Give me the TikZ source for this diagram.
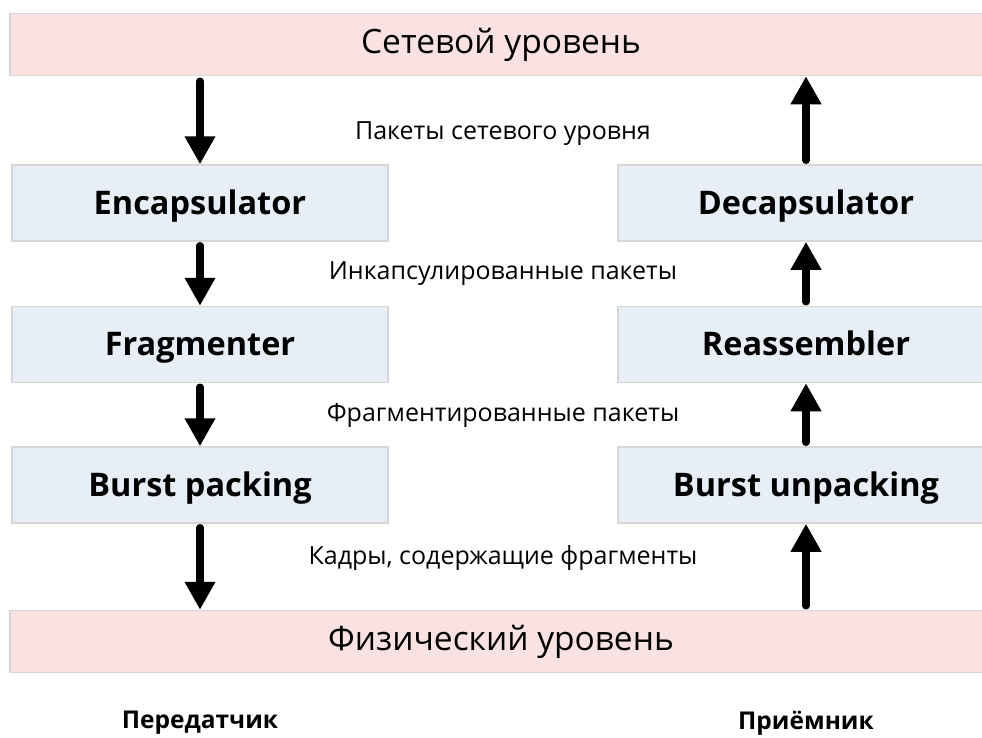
\documentclass[tikz,border=0pt]{standalone}
\usepackage{fontspec}
\setmainfont{Open Sans}
\usetikzlibrary{arrows.meta}
\definecolor{layerfill}{HTML}{FAE2E2}
\definecolor{stagefill}{HTML}{E8EEF6}
\definecolor{edgegray}{HTML}{D6D6D6}
\tikzset{
  layer/.style={draw=edgegray, line width=1.5pt, fill=layerfill, minimum width=982pt,
    minimum height=62pt, inner sep=0pt, font=\fontsize{33.5}{40}\selectfont},
  stage/.style={draw=edgegray, line width=1.5pt, fill=stagefill, minimum width=376pt,
    minimum height=76pt, inner sep=0pt, text height=27pt, text depth=5pt,
    font=\bfseries\fontsize{32.5}{38}\selectfont},
  flow/.style={line width=7.5pt, line cap=round, -{Triangle[length=28pt,width=29pt]}},
  caption/.style={font=\fontsize{25}{30}\selectfont, inner sep=0pt},
  side/.style={font=\bfseries\fontsize{24.5}{29}\selectfont, inner sep=0pt}
}
\begin{document}
\begin{tikzpicture}[x=1pt, y=-1pt]
\useasboundingbox (0,0) rectangle (982,737);
\clip (0,0) rectangle (982,737);
\fill[white] (0,0) rectangle (982,737);

% protocol layers
\node[layer] (net) at (501,44.5) {Сетевой уровень};
\node[layer] (phy) at (501,641.5) {Физический уровень};

% transmitter chain
\node[stage] (enc) at (200,203) {Encapsulator};
\node[stage] (frag) at (200,344.5) {Fragmenter};
\node[stage] (pack) at (200,485) {Burst packing};

% receiver chain
\node[stage] (dec) at (806,203) {Decapsulator};
\node[stage] (reas) at (806,344.5) {Reassembler};
\node[stage] (unpack) at (806,485) {Burst unpacking};

% downward flow (tails start just below the upper box)
\draw[flow] ([yshift=-5pt]net.south -| enc) -- (enc.north);
\draw[flow] ([yshift=-4pt]enc.south) -- (frag.north);
\draw[flow] ([yshift=-4pt]frag.south) -- (pack.north);
\draw[flow] ([yshift=-4pt]pack.south) -- (phy.north -| pack);

% upward flow (tails start just above the lower box)
\draw[flow] ([yshift=4pt]phy.north -| unpack) -- (unpack.south);
\draw[flow] ([yshift=4pt]unpack.north) -- (reas.south);
\draw[flow] ([yshift=4pt]reas.north) -- (dec.south);
\draw[flow] ([yshift=4pt]dec.north) -- (net.south -| dec);

% data unit captions
\node[caption] (c1) at (503,134) {Пакеты сетевого уровня};
\node[caption] (c2) at (503,274) {Инкапсулированные пакеты};
\node[caption] (c3) at (503,415) {Фрагментированные пакеты};
\node[caption] (c4) at (503,558) {Кадры, содержащие фрагменты};

% sides
\node[side] (tx) at (200,723) {Передатчик};
\node[side] (rx) at (806,723) {Приёмник};
\end{tikzpicture}
\end{document}
